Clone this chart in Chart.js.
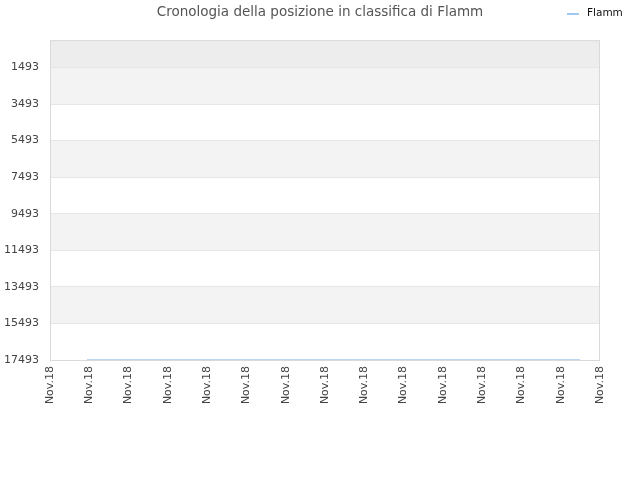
<!DOCTYPE html>
<html>
<head>
<meta charset="utf-8">
<script src="https://cdn.jsdelivr.net/npm/chart.js@4"></script>
<style>
  html, body { margin: 0; padding: 0; background: #fff; }
  #board { display: block; }
</style>
</head>
<body>
<canvas id="board" width="640" height="480"></canvas>
<script>
// chart data
const chartTitle = "Cronologia della posizione in classifica di Flamm";
const seriesName = "Flamm";
const tickLabels = ["Nov.18", "Nov.18", "Nov.18", "Nov.18", "Nov.18", "Nov.18", "Nov.18", "Nov.18",
    "Nov.18", "Nov.18", "Nov.18", "Nov.18", "Nov.18", "Nov.18", "Nov.18"];
const xPositions = [0.94, 3, 6, 9, 12, 13.49];
const rankValues = [17493, 17493, 17493, 17493, 17493, 17493];
const rankTicks = [1493, 3493, 5493, 7493, 9493, 11493, 13493, 15493, 17493];

const lineColor = "#a3c8f0";
const fontFamily = "'DejaVu Sans', sans-serif";

// alternating grey bands behind the plot, drawn from the y scale
const bandsPlugin = {
    id: 'bands',
    beforeDraw(chart) {
        const ctx = chart.ctx;
        const area = chart.chartArea;
        const y = chart.scales.y;
        ctx.save();
        // band above the first tick
        const first = y.getPixelForValue(rankTicks[0]);
        ctx.fillStyle = "#ededed";
        ctx.fillRect(area.left, area.top, area.right - area.left, first - area.top);
        for (let i = 0; i < rankTicks.length - 1; ++i) {
            if (i % 2 == 0) {
                const a = y.getPixelForValue(rankTicks[i]);
                const b = y.getPixelForValue(rankTicks[i + 1]);
                ctx.fillStyle = "#f3f3f3";
                ctx.fillRect(area.left, a, area.right - area.left, b - a);
            }
        }
        ctx.restore();
    },
    afterDatasetsDraw(chart) {
        const ctx = chart.ctx;
        const area = chart.chartArea;
        ctx.save();
        ctx.strokeStyle = "#d9d9d9";
        ctx.lineWidth = 1;
        ctx.strokeRect(area.left + 0.5, area.top + 0.5, area.right - area.left - 1, area.bottom - area.top);
        ctx.restore();
    }
};

// legend entry in the top right corner, on the title line
const legendPlugin = {
    id: 'cornerLegend',
    afterDraw(chart) {
        const ctx = chart.ctx;
        const ds = chart.data.datasets[0];
        ctx.save();
        ctx.strokeStyle = ds.borderColor;
        ctx.lineWidth = 2;
        ctx.beginPath();
        ctx.moveTo(567, 14);
        ctx.lineTo(579, 14);
        ctx.stroke();
        ctx.fillStyle = "#111";
        ctx.font = "10.5px " + fontFamily;
        ctx.textBaseline = "middle";
        ctx.fillText(ds.label, 587, 13);
        ctx.restore();
    }
};

function makeLineChart() {
    const data = {
        datasets: [{
            label: seriesName,
            data: xPositions.map((x, i) => ({ x: x, y: rankValues[i] })),
            borderColor: lineColor,
            backgroundColor: lineColor,
            borderWidth: 1.5,
            pointRadius: 0,
            tension: 0
        }]
    };
    const config = {
        type: 'line',
        data: data,
        plugins: [bandsPlugin, legendPlugin],
        options: {
            responsive: false,
            animation: false,
            layout: { padding: 0 },
            plugins: {
                legend: { display: false },
                tooltip: { enabled: false },
                title: {
                    display: true,
                    text: chartTitle,
                    color: "#555",
                    font: { family: fontFamily, size: 13.5, weight: 'normal' },
                    padding: { top: 4, bottom: 20 }
                }
            },
            scales: {
                x: {
                    type: 'linear',
                    min: 0,
                    max: tickLabels.length - 1,
                    afterBuildTicks(scale) {
                        scale.ticks = tickLabels.map((l, i) => ({ value: i }));
                    },
                    afterFit(scale) { scale.height = 120; },
                    grid: { display: false, drawTicks: false },
                    border: { display: false },
                    ticks: {
                        autoSkip: false,
                        minRotation: 90,
                        maxRotation: 90,
                        padding: 6,
                        color: "#444",
                        font: { family: fontFamily, size: 11 },
                        callback: (v) => tickLabels[v]
                    }
                },
                y: {
                    reverse: true,
                    min: 0,
                    max: 17493,
                    afterBuildTicks(scale) {
                        scale.ticks = rankTicks.map(v => ({ value: v }));
                    },
                    afterFit(scale) { scale.width = 50; },
                    grid: { color: "#e6e6e6", drawTicks: false },
                    border: { display: false },
                    ticks: {
                        padding: 11,
                        color: "#444",
                        font: { family: fontFamily, size: 11 },
                        callback: (v) => String(v)
                    }
                },
                // empty strip on the right so the title stays centred on the page
                side: {
                    position: 'right',
                    display: true,
                    afterFit(scale) { scale.width = 40; },
                    grid: { display: false, drawTicks: false },
                    border: { display: false },
                    ticks: { display: false }
                }
            }
        }
    };
    const ctx = document.getElementById("board").getContext("2d");
    new Chart(ctx, config);
}

makeLineChart();
</script>
</body>
</html>
